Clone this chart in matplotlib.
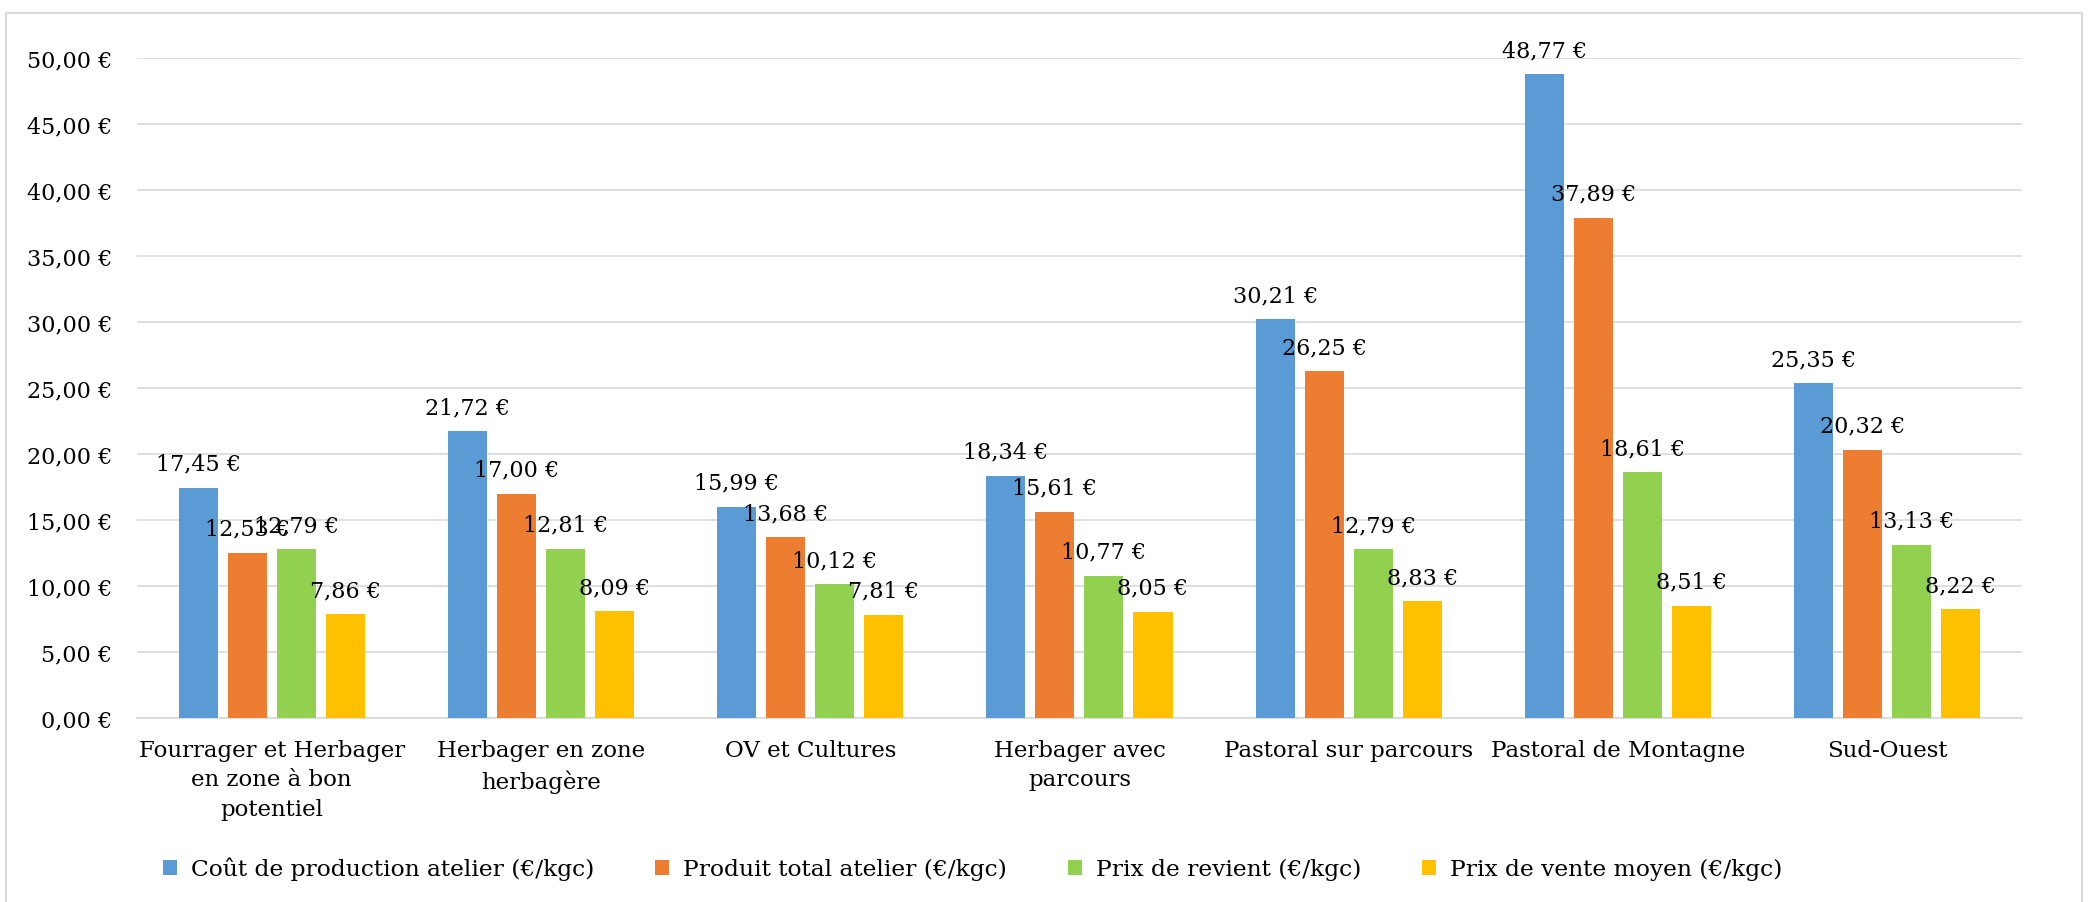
import numpy as np
import matplotlib
matplotlib.use("Agg")
import matplotlib.pyplot as plt
from matplotlib.patches import Rectangle

plt.rcParams['font.family'] = ['DejaVu Serif']

categories = ["Fourrager et Herbager\nen zone à bon\npotentiel", "Herbager en zone\nherbagère",
              "OV et Cultures", "Herbager avec\nparcours", "Pastoral sur parcours",
              "Pastoral de Montagne", "Sud-Ouest"]
cout = [17.45, 21.72, 15.99, 18.34, 30.21, 48.77, 25.35]
produit = [12.53, 17.00, 13.68, 15.61, 26.25, 37.89, 20.32]
revient = [12.79, 12.81, 10.12, 10.77, 12.79, 18.61, 13.13]
vente = [7.86, 8.09, 7.81, 8.05, 8.83, 8.51, 8.22]
series_names = ["Coût de production atelier (€/kgc)", "Produit total atelier (€/kgc)",
                "Prix de revient (€/kgc)", "Prix de vente moyen (€/kgc)"]
colors = ["#5B9BD5", "#ED7D31", "#92D050", "#FFC000"]
yticks = [0, 5, 10, 15, 20, 25, 30, 35, 40, 45, 50]

def euro(v):
    return ("%.2f €" % v).replace(".", ",")

fig = plt.figure(figsize=(20.92, 9.03), dpi=100)
fig.patches.append(Rectangle((0.003, -0.01), 0.992, 0.995, transform=fig.transFigure,
                             fill=False, edgecolor="#D9D9D9", linewidth=1.5))
ax = fig.add_axes([0.0655, 0.2038, 0.901, 0.731])

x = np.arange(len(categories))
w = 0.145
step = 0.182
for i, (vals, name, c) in enumerate(zip([cout, produit, revient, vente], series_names, colors)):
    pos = x + (i - 1.5) * step
    ax.bar(pos, vals, width=w, color=c, label=name, zorder=3)
    for p, v in zip(pos, vals):
        ax.annotate(euro(v), (p, v), xytext=(0, 13), textcoords="offset points",
                    ha="center", va="baseline", fontsize=16, annotation_clip=False)

ax.set_xlim(-0.5, len(categories) - 0.5)
ax.set_ylim(0, 50)
ax.set_yticks(yticks)
ax.set_yticklabels([euro(t) for t in yticks], fontsize=16)
ax.set_xticks(x)
ax.set_xticklabels(categories, fontsize=16.5, linespacing=1.45, va="top")
ax.tick_params(axis="both", length=0)
ax.tick_params(axis="y", pad=18)
ax.tick_params(axis="x", pad=15)
ax.grid(axis="y", color="#D9D9D9", linewidth=1.2, zorder=0)
for s in ["top", "right", "left"]:
    ax.spines[s].set_visible(False)
ax.spines["bottom"].set_color("#D9D9D9")
ax.spines["bottom"].set_linewidth(1.2)

fig.legend(loc="center", bbox_to_anchor=(0.465, 0.037), ncol=4, frameon=False,
           fontsize=16.8, handlelength=0.6, handleheight=0.6, columnspacing=2.6, handletextpad=0.6)

fig.savefig("out.png", dpi=100)
